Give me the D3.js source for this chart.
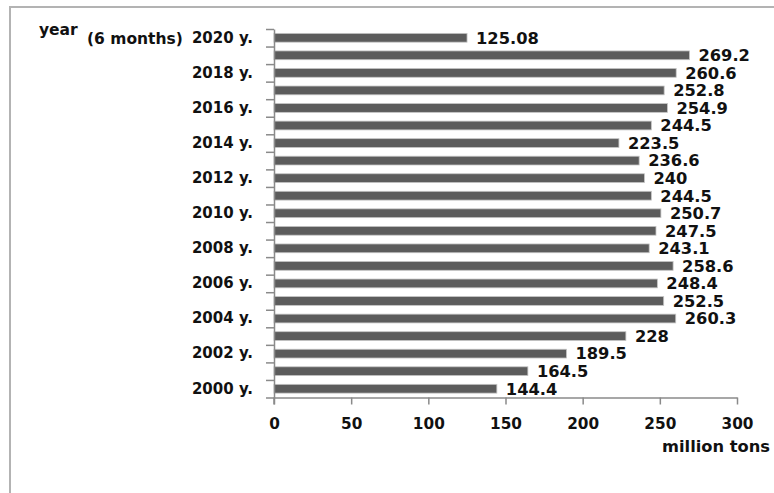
<!DOCTYPE html>
<html>
<head>
<meta charset="utf-8">
<script src="https://cdn.jsdelivr.net/npm/d3@7"></script>
<style>
  html, body { margin: 0; padding: 0; background: #fff; }
  svg { display: block; }
  text { font-family: "DejaVu Sans", sans-serif; font-weight: bold; fill: #111; }
</style>
</head>
<body>
<svg id="chart" width="774" height="493"></svg>
<script>
// Data (2000 .. 2020, 2020 = 6 months)
const categories = ["2000 y.","2001 y.","2002 y.","2003 y.","2004 y.","2005 y.","2006 y.","2007 y.",
  "2008 y.","2009 y.","2010 y.","2011 y.","2012 y.","2013 y.","2014 y.","2015 y.","2016 y.",
  "2017 y.","2018 y.","2019 y.","2020 y."];
const values = [144.4,164.5,189.5,228,260.3,252.5,248.4,258.6,243.1,247.5,250.7,244.5,240,236.6,
  223.5,244.5,254.9,252.8,260.6,269.2,125.08];
const valueLabels = ["144.4","164.5","189.5","228","260.3","252.5","248.4","258.6","243.1","247.5",
  "250.7","244.5","240","236.6","223.5","244.5","254.9","252.8","260.6","269.2","125.08"];
const xTicks = [0,50,100,150,200,250,300];
const xTitle = "million tons";
const yTitle = "year";
const yNote = "(6 months)";

const svg = d3.select("#chart");

// frame (cut off at right/bottom as in the reference)
svg.append("rect").attr("x",10).attr("y",7).attr("width",900).attr("height",700)
  .attr("fill","none").attr("stroke","#b3b3b3").attr("stroke-width",2);

const pLeft = 274, pRight = 737, pTop = 29, pBottom = 397.5;
const x = d3.scaleLinear().domain([0,300]).range([pLeft,pRight]);
const y = d3.scaleBand().domain(categories.slice().reverse()).range([pTop,pBottom]).paddingInner(0.5).paddingOuter(0.25);
const yIdx = d3.scaleLinear().domain([0,categories.length]).range([pBottom,pTop]);

const axisColor = "#8a8a8a";

// bars
svg.append("g").selectAll("rect").data(values).join("rect")
  .attr("x", x(0))
  .attr("y", (d,i) => y(categories[i]))
  .attr("width", d => x(d) - x(0))
  .attr("height", y.bandwidth())
  .attr("fill", "#5c5c5c")
  .attr("stroke", "#c4c4c4")
  .attr("stroke-width", 0.8);

// value labels
svg.append("g").selectAll("text").data(values).join("text")
  .attr("x", d => x(d) + 9)
  .attr("y", (d,i) => y(categories[i]) + y.bandwidth()/2)
  .attr("dy", "0.36em")
  .attr("font-size", "16.3px")
  .text((d,i) => valueLabels[i]);

// category tick marks (band boundaries)
const yTickAxis = svg.append("g").attr("transform", `translate(${pLeft},0)`)
  .call(d3.axisLeft(yIdx).tickValues(d3.range(0, categories.length+1))
    .tickSize(8).tickSizeOuter(0).tickFormat(""));
yTickAxis.select(".domain").attr("stroke", axisColor).attr("stroke-width", 1.5);
yTickAxis.selectAll(".tick line").attr("stroke", axisColor).attr("stroke-width", 1.5);

// extend category axis slightly below
svg.append("line").attr("x1",pLeft).attr("x2",pLeft).attr("y1",pBottom).attr("y2",pBottom+7)
  .attr("stroke",axisColor).attr("stroke-width",1.5);

// category labels
const yLab = svg.append("g").attr("transform", `translate(${pLeft},0)`)
  .call(d3.axisLeft(y).tickSize(0).tickPadding(21)
    .tickFormat(d => (parseInt(d) % 2 === 0 ? d : "")));
yLab.select(".domain").remove();
yLab.selectAll("text").attr("font-size","15px").attr("fill","#111")
  .attr("font-family","DejaVu Sans, sans-serif").attr("font-weight","bold");

// x axis
const xAx = svg.append("g").attr("transform", `translate(0,${pBottom})`)
  .call(d3.axisBottom(x).tickValues(xTicks).tickSize(7).tickSizeOuter(0).tickPadding(14));
xAx.select(".domain").attr("stroke", axisColor).attr("stroke-width", 1.5);
xAx.selectAll(".tick line").attr("stroke", axisColor).attr("stroke-width", 1.5);
xAx.selectAll("text").attr("font-size","15.3px").attr("fill","#111")
  .attr("font-family","DejaVu Sans, sans-serif").attr("font-weight","bold");

// titles
svg.append("text").attr("x", 770).attr("y", 452).attr("text-anchor","end")
  .attr("font-size","16.3px").text(xTitle);
svg.append("text").attr("x", 39).attr("y", 35).attr("font-size","15.5px").text(yTitle);
svg.append("text").attr("x", 87).attr("y", 44).attr("font-size","15.5px").text(yNote);
</script>
</body>
</html>
